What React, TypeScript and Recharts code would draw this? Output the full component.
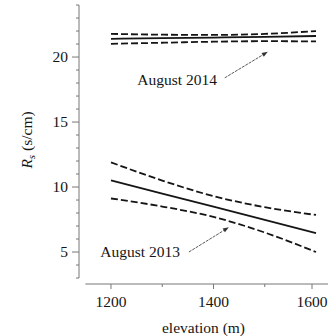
import React from "react";
import { LineChart, Line, XAxis, YAxis, ReferenceLine, ReferenceDot } from "recharts";

const elevations = [1200, 1300, 1400, 1500, 1600];
const mid2014 = [21.4, 21.45, 21.5, 21.55, 21.62];
const upper2014 = [21.78, 21.72, 21.7, 21.78, 22.0];
const lower2014 = [21.02, 21.1, 21.18, 21.22, 21.2];
const mid2013 = [10.52, 9.5, 8.5, 7.48, 6.45];
const upper2013 = [11.9, 10.5, 9.3, 8.45, 7.85];
const lower2013 = [9.12, 8.5, 7.7, 6.5, 5.0];

const xTicks = [1200, 1300, 1400, 1500, 1600];
const xLabeled = [1200, 1400, 1600];
const yTicks = [3, 4, 5, 6, 7, 8, 9, 10, 11, 12, 13, 14, 15, 16, 17, 18, 19, 20, 21, 22, 23, 24];
const yLabeled = [5, 10, 15, 20];

const data = elevations.map((e, i) => ({
  e,
  mid2014: mid2014[i],
  upper2014: upper2014[i],
  lower2014: lower2014[i],
  mid2013: mid2013[i],
  upper2013: upper2013[i],
  lower2013: lower2013[i],
}));

const X_MIN = 1137.6;
const X_MAX = 1623.4;
const Y_MIN = 2.54;
const Y_MAX = 24.08;

const FONT = "Liberation Serif";
const INK = "#151515";
const AXIS = "#777";
const FS = 15.5;

const YTick = (props: any) => {
  const { x, y, payload } = props;
  const major = yLabeled.includes(payload.value);
  const len = major ? 7 : 3;
  return (
    <g>
      <line x1={x - len} x2={x} y1={y} y2={y} stroke={AXIS} strokeWidth={1} />
      {major && (
        <text x={x - len - 4} y={y} dy={5} textAnchor="end" fontFamily={FONT} fontSize={FS} fill={INK}>
          {payload.value}
        </text>
      )}
    </g>
  );
};

const XTick = (props: any) => {
  const { x, y, payload } = props;
  const major = xLabeled.includes(payload.value);
  const len = major ? 5 : 3;
  return (
    <g>
      <line x1={x} x2={x} y1={y} y2={y + len} stroke={AXIS} strokeWidth={1} />
      {major && (
        <text x={x} y={y + 23} textAnchor="middle" fontFamily={FONT} fontSize={FS} fill={INK}>
          {payload.value}
        </text>
      )}
    </g>
  );
};

const Arrow = (props: any) => {
  const { x1, y1, x2, y2 } = props;
  const ang = Math.atan2(y2 - y1, x2 - x1);
  const L = 6;
  const W = 2.2;
  const bx = x2 - L * Math.cos(ang);
  const by = y2 - L * Math.sin(ang);
  const px = -Math.sin(ang) * W;
  const py = Math.cos(ang) * W;
  return (
    <g>
      <line x1={x1} y1={y1} x2={bx} y2={by} stroke="#444" strokeWidth={0.9} strokeDasharray="3 1" />
      <polygon points={`${x2},${y2} ${bx + px},${by + py} ${bx - px},${by - py}`} fill="#333" />
    </g>
  );
};

const makeLabel = (txt: string) => (props: any) => {
  const { cx, cy } = props;
  return (
    <text x={cx} y={cy} dy={5} textAnchor="middle" fontFamily={FONT} fontSize={FS} fill={INK}>
      {txt}
    </text>
  );
};

export default function App() {
  return (
    <div style={{ position: "absolute", left: 0, top: 0 }}>
      <LineChart width={328} height={336} data={data} margin={{ top: 4, right: 0, bottom: 0, left: 19 }}>
        <XAxis
          dataKey="e"
          type="number"
          domain={[X_MIN, X_MAX]}
          allowDataOverflow
          ticks={xTicks}
          tick={<XTick />}
          tickLine={false}
          axisLine={false}
          tickSize={0}
          tickMargin={0}
          height={52}
          label={{ value: "elevation (m)", position: "insideBottom", offset: 3, fontFamily: FONT, fontSize: FS, fill: INK }}
        />
        <YAxis
          type="number"
          domain={[Y_MIN, Y_MAX]}
          allowDataOverflow
          ticks={yTicks}
          interval={0}
          tick={<YTick />}
          tickLine={false}
          axisLine={false}
          tickSize={0}
          tickMargin={0}
          width={60}
          label={(p: any) => {
            const cx = 27;
            const cy = 140;
            return (
              <text x={cx} y={cy} transform={`rotate(-90 ${cx} ${cy})`} textAnchor="middle" dy={5} fontFamily={FONT} fontSize={FS} fill={INK}>
                <tspan fontStyle="italic">R</tspan>
                <tspan fontStyle="italic" fontSize={11} dy={3}>s</tspan>
                <tspan dy={-3}> (s/cm)</tspan>
              </text>
            );
          }}
        />
        <ReferenceLine segment={[{ x: X_MIN, y: 3 }, { x: X_MIN, y: 24 }]} stroke={AXIS} strokeWidth={1} ifOverflow="visible" />
        <ReferenceLine segment={[{ x: 1150, y: Y_MIN }, { x: X_MAX, y: Y_MIN }]} stroke={AXIS} strokeWidth={1} ifOverflow="visible" />

        <Line dataKey="upper2014" type="monotone" stroke={INK} strokeWidth={1.8} strokeDasharray="7 3" dot={false} isAnimationActive={false} />
        <Line dataKey="mid2014" type="monotone" stroke={INK} strokeWidth={1.8} dot={false} isAnimationActive={false} />
        <Line dataKey="lower2014" type="monotone" stroke={INK} strokeWidth={1.8} strokeDasharray="7 3" dot={false} isAnimationActive={false} />
        <Line dataKey="upper2013" type="monotone" stroke={INK} strokeWidth={1.8} strokeDasharray="7 3" dot={false} isAnimationActive={false} />
        <Line dataKey="mid2013" type="monotone" stroke={INK} strokeWidth={1.8} dot={false} isAnimationActive={false} />
        <Line dataKey="lower2013" type="monotone" stroke={INK} strokeWidth={1.8} strokeDasharray="7 3" dot={false} isAnimationActive={false} />

        <ReferenceLine segment={[{ x: 1422, y: 18.4 }, { x: 1506, y: 20.4 }]} shape={<Arrow />} ifOverflow="visible" />
        <ReferenceLine segment={[{ x: 1352, y: 5.0 }, { x: 1430, y: 6.9 }]} shape={<Arrow />} ifOverflow="visible" />
        <ReferenceDot x={1329} y={18.2} r={1} shape={makeLabel("August 2014")} ifOverflow="visible" />
        <ReferenceDot x={1257} y={5.0} r={1} shape={makeLabel("August 2013")} ifOverflow="visible" />
      </LineChart>
    </div>
  );
}
